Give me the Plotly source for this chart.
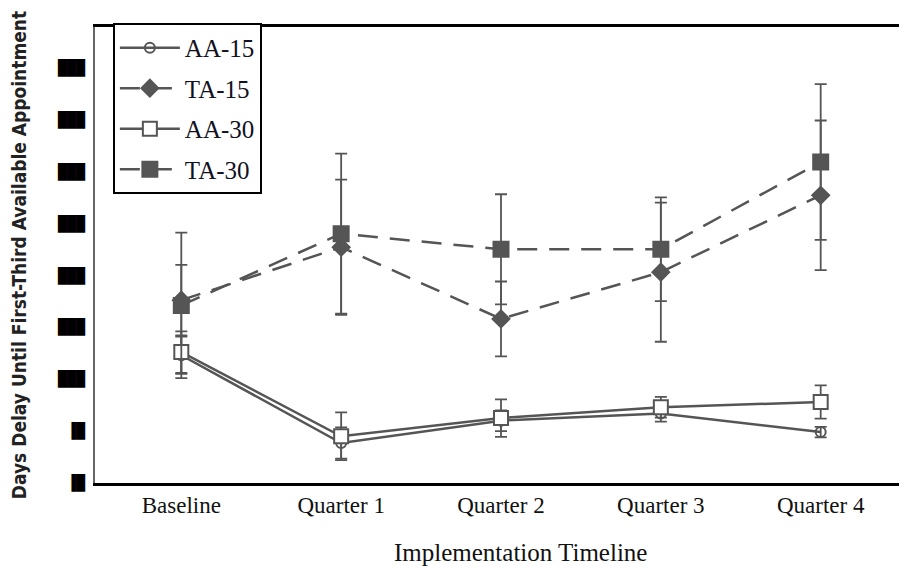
import plotly.graph_objects as go

categories = ["Baseline", "Quarter 1", "Quarter 2", "Quarter 3", "Quarter 4"]

aa15 = [12.3, 3.85, 6.0, 6.7, 4.9]
aa15_err = [1.8, 1.5, 1.0, 0.8, 0.5]
ta15 = [17.6, 22.7, 15.8, 20.3, 27.7]
ta15_err = [3.4, 6.5, 3.6, 6.7, 7.2]
aa30 = [12.6, 4.5, 6.25, 7.3, 7.8]
aa30_err = [2.0, 2.3, 1.8, 1.0, 1.6]
ta30 = [17.1, 24.0, 22.5, 22.5, 30.9]
ta30_err = [7.0, 7.7, 5.3, 5.0, 7.5]

y_tickvals = [0, 5, 10, 15, 20, 25, 30, 35, 40]
y_ticktext = ["▐█", "▐█", "███", "███", "███", "███", "███", "███", "███"]

x_title = "Implementation Timeline"
y_title = "Days Delay Until First-Third Available Appointment"

x_idx = list(range(len(categories)))
grey = "#555555"

fig = go.Figure()

def add(name, y, err, symbol, size, dash, fill, lw):
    fig.add_trace(go.Scatter(
        x=x_idx, y=y, name=name, mode="lines+markers", legendgroup=name,
        line=dict(color=grey, width=lw, dash=dash),
        marker=dict(symbol=symbol, size=size, color=fill,
                    line=dict(color=grey, width=2)),
        error_y=dict(type="data", array=err, visible=True,
                     color=grey, thickness=1.8, width=6),
    ))

add("AA-15", aa15, aa15_err, "circle-open", 10, "solid", grey, 2.5)
add("TA-15", ta15, ta15_err, "diamond", 13, "20px,12px", grey, 2.5)
add("AA-30", aa30, aa30_err, "square", 14, "solid", "white", 2.5)
add("TA-30", ta30, ta30_err, "square", 15, "20px,12px", grey, 2.5)

fig.add_annotation(
    text=x_title, xref="paper", yref="paper", x=0.5246, y=-0.153,
    xanchor="center", yanchor="middle", showarrow=False,
    font=dict(family="Liberation Serif", size=25, color="#111111"),
)

fig.update_layout(
    width=899, height=566,
    margin=dict(l=87, r=0, t=19, b=91),
    paper_bgcolor="white", plot_bgcolor="white",
    font=dict(family="Liberation Serif", color="#111111"),
    showlegend=True,
    legend=dict(x=0.022, y=1.009, xanchor="left", yanchor="top",
                bgcolor="white", bordercolor="black", borderwidth=2,
                font=dict(family="Liberation Serif", size=25, color="#111122"),
                tracegroupgap=5, itemwidth=60),
    xaxis=dict(
        range=[-0.54, 4.54], tickvals=x_idx, ticktext=categories,
        showgrid=False, zeroline=False,
        showline=True, linecolor="black", linewidth=2.5, mirror=True,
        ticks="", tickfont=dict(family="Liberation Serif", size=23, color="#111111"),
    ),
    yaxis=dict(
        range=[0, 43.9], tickvals=y_tickvals, ticktext=y_ticktext,
        showgrid=False, zeroline=False,
        showline=True, linecolor="#666666", linewidth=2, mirror=False,
        ticks="", ticklabelstandoff=5,
        tickfont=dict(family="DejaVu Sans Mono", size=15, color="black"),
        title=dict(text=y_title, standoff=28,
                   font=dict(family="DejaVu Sans Condensed", size=19, color="#222222",
                             weight="bold")),
    ),
)

fig.write_html("out.html")
